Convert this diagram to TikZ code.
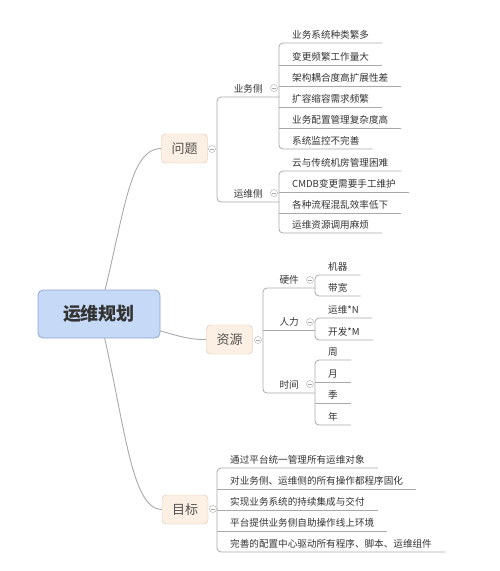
\documentclass[tikz,border=0pt]{standalone}
\usepackage{fontspec}
\setmainfont{Noto Sans CJK SC}
\usetikzlibrary{backgrounds}
\definecolor{linegray}{HTML}{A9A9A9}
\definecolor{rootfill}{HTML}{C6D9F6}
\definecolor{rootdraw}{HTML}{8EA6CE}
\definecolor{boxfill}{HTML}{FCEFE3}
\definecolor{boxdraw}{HTML}{D9C1A9}
\definecolor{txt}{HTML}{333333}
\tikzset{
    rootnode/.style = {rectangle, rounded corners=5pt, thick, draw=rootdraw, fill=rootfill, minimum width=122pt, minimum height=48pt, font=\fontsize{18}{20}\selectfont\bfseries, text=txt},
    boxnode/.style = {rectangle, rounded corners=4pt, draw=boxdraw, fill=boxfill, minimum width=46pt, minimum height=29pt, font=\fontsize{13}{15}\selectfont, text=txt!85},
    subnode/.style = {anchor=south west, inner xsep=0pt, inner ysep=2.5pt, text height=8pt, text depth=2.3pt, font=\fontsize{9.6}{11}\selectfont, text=txt},
    leafnode/.style = {anchor=south west, inner xsep=13pt, inner ysep=2.5pt, text height=8pt, text depth=2.3pt, font=\fontsize{9.6}{11}\selectfont, text=txt},
    foldnode/.style = {circle, draw=linegray, fill=white, minimum size=7pt, inner sep=0pt, path picture={\draw[linegray] ([xshift=1.6pt]path picture bounding box.west) -- ([xshift=-1.6pt]path picture bounding box.east);}},
    edgel/.style = {-, line width=0.8pt, linegray},
    edgem/.style = {-, line width=0.8pt, linegray, rounded corners=4pt},
    edgec/.style = {-, line width=0.9pt, linegray},
}
\begin{document}
\begin{tikzpicture}[x=1pt,y=-1pt]
\useasboundingbox (0,0) rectangle (500,571);
\node[rootnode] at ( 99.0, 314.0) (root) {运维规划};
\node[boxnode] at (184.5, 148.5) (wt) {问题};
\node[boxnode] at (229.5, 339.5) (zy) {资源};
\node[boxnode] at (185.0, 509.5) (mb) {目标};

% 问题
\node[subnode, minimum width=62pt] at (217, 97) (yw) {业务侧};
\node[subnode, minimum width=62pt] at (217,202) (ops) {运维侧};
\node[leafnode] at (279, 43) (a1) {业务系统种类繁多};
\node[leafnode] at (279, 65) (a2) {变更频繁工作量大};
\node[leafnode] at (279, 86) (a3) {架构耦合度高扩展性差};
\node[leafnode] at (279,107) (a4) {扩容缩容需求频繁};
\node[leafnode] at (279,128) (a5) {业务配置管理复杂度高};
\node[leafnode] at (279,149) (a6) {系统监控不完善};
\node[leafnode] at (279,171) (b1) {云与传统机房管理困难};
\node[leafnode] at (279,192) (b2) {CMDB变更需要手工维护};
\node[leafnode] at (279,213) (b3) {各种流程混乱效率低下};
\node[leafnode] at (279,233) (b4) {运维资源调用麻烦};

% 资源
\node[subnode, minimum width=52pt] at (263,288) (hw) {硬件};
\node[subnode, minimum width=52pt] at (263,330) (hr) {人力};
\node[subnode, minimum width=52pt] at (263,393) (tm) {时间};
\node[leafnode] at (315,275) (c1) {机器};
\node[leafnode] at (315,296) (c2) {带宽};
\node[leafnode] at (315,318) (d1) {运维*N};
\node[leafnode] at (315,340) (d2) {开发*M};
\node[leafnode] at (315,360) (e1) {周};
\node[leafnode] at (315,382) (e2) {月};
\node[leafnode] at (315,403) (e3) {季};
\node[leafnode] at (315,425) (e4) {年};

% 目标
\node[leafnode] at (217,468) (g1) {通过平台统一管理所有运维对象};
\node[leafnode] at (217,489) (g2) {对业务侧、运维侧的所有操作都程序固化};
\node[leafnode] at (217,510) (g3) {实现业务系统的持续集成与交付};
\node[leafnode] at (217,531) (g4) {平台提供业务侧自助操作线上环境};
\node[leafnode] at (217,552) (g5) {完善的配置中心驱动所有程序、脚本、运维组件};

\begin{scope}[on background layer]
\draw[edgec] (root.center) .. controls (125,215) and (128,149) .. (wt.west);
\draw[edgec] (root.center) .. controls (165,330) and (180,340) .. (zy.west);
\draw[edgec] (root.center) .. controls (125,420) and (130,509) .. (mb.west);

\draw[edgem] (yw.south east) -- (yw.south west) -- (ops.south west) -- (ops.south east);
\draw[edgem] (a1.south east) -- (a1.south west) -- (a6.south west) -- (a6.south east);
\draw[edgel] (a2.south west) -- (a2.south east);
\draw[edgel] (a3.south west) -- (a3.south east);
\draw[edgel] (a4.south west) -- (a4.south east);
\draw[edgel] (a5.south west) -- (a5.south east);
\draw[edgem] (b1.south east) -- (b1.south west) -- (b4.south west) -- (b4.south east);
\draw[edgel] (b2.south west) -- (b2.south east);
\draw[edgel] (b3.south west) -- (b3.south east);

\draw[edgem] (hw.south east) -- (hw.south west) -- (tm.south west) -- (tm.south east);
\draw[edgel] (hr.south west) -- (hr.south east);
\draw[edgem] (c1.south east) -- (c1.south west) -- (c2.south west) -- (c2.south east);
\draw[edgem] (d1.south east) -- (d1.south west) -- (d2.south west) -- (d2.south east);
\draw[edgem] (e1.south east) -- (e1.south west) -- (e4.south west) -- (e4.south east);
\draw[edgel] (e2.south west) -- (e2.south east);
\draw[edgel] (e3.south west) -- (e3.south east);

\draw[edgem] (g1.south east) -- (g1.south west) -- (g5.south west) -- (g5.south east);
\draw[edgel] (g2.south west) -- (g2.south east);
\draw[edgel] (g3.south west) -- (g3.south east);
\draw[edgel] (g4.south west) -- (g4.south east);
\end{scope}

\node[foldnode] at (212,149) (fwt) {};
\node[foldnode] at (274, 88) (fyw) {};
\node[foldnode] at (274,193) (fops) {};
\node[foldnode] at (258,340) (fzy) {};
\node[foldnode] at (310,280) (fhw) {};
\node[foldnode] at (310,322) (fhr) {};
\node[foldnode] at (310,384) (ftm) {};
\node[foldnode] at (213,509) (fmb) {};
\end{tikzpicture}
\end{document}
